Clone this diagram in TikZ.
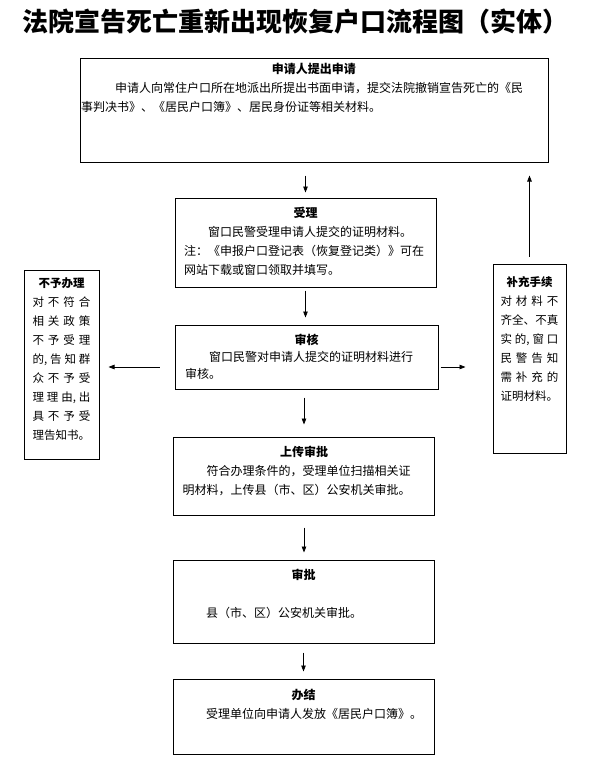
\documentclass[tikz,border=0pt]{standalone}
\usepackage{fontspec}
\newfontfamily\cjk{Noto Sans CJK SC}
\usetikzlibrary{positioning,arrows.meta,calc}

% bold heading line centred over the text width
\newcommand\boxtitle[1]{\makebox[\linewidth]{\bfseries #1}}
% let CJK lines stretch in the narrow side boxes
\newcommand\cjkspread{\XeTeXlinebreaklocale "zh"\XeTeXlinebreakskip=0pt plus 3pt\relax}

\begin{document}
\begin{tikzpicture}[
      x=1pt, y=-1pt,
      box/.style={rectangle, draw, line width=1pt, inner sep=0pt},
      txt/.style={inner sep=0pt, align=left, font=\cjk\fontsize{12}{19}\selectfont},
      side/.style={inner sep=0pt, align=justify, text width=58pt, font=\cjk\fontsize{11.5}{19}\selectfont\cjkspread},
      line/.style={draw, line width=0.8pt, -{Triangle[length=6pt, width=4.5pt]}}
  ]
      \useasboundingbox (0,0) rectangle (589,766);

      % Title
      \node (title) [font=\cjk\bfseries\fontsize{26}{26}\selectfont] at (296,22) {法院宣告死亡重新出现恢复户口流程图（实体）};

      % Boxes
      \node (app) [box, minimum width=468pt, minimum height=104pt] at (314,110) {};
      \node (acc) [box, minimum width=261pt, minimum height=89pt] at (305.5,242.5) {};
      \node (rev) [box, minimum width=263pt, minimum height=64pt] at (306.5,357) {};
      \node (upl) [box, minimum width=261pt, minimum height=78pt] at (304,476) {};
      \node (appr) [box, minimum width=261pt, minimum height=83pt] at (303.5,601.5) {};
      \node (done) [box, minimum width=261pt, minimum height=75pt] at (303.5,716.5) {};
      \node (rej) [box, minimum width=75pt, minimum height=189pt] at (61.5,364.5) {};
      \node (sup) [box, minimum width=73pt, minimum height=189pt] at (529.5,358.5) {};

      % Texts
      \node (app-t) [txt, text width=466pt, below=6pt of app.north] {\boxtitle{申请人提出申请}\\
        \hspace*{34pt}申请人向常住户口所在地派出所提出书面申请，提交法院撤销宣告死亡的《民\\
        事判决书》、《居民户口簿》、居民身份证等相关材料。};
      \node (acc-t) [txt, text width=243pt, below=9pt of acc.north] {\boxtitle{受理}\\
        \hspace*{2em}窗口民警受理申请人提交的证明材料。\\
        注：《申报户口登记表（恢复登记类）》可在\\
        网站下载或窗口领取并填写。};
      \node (rev-t) [txt, text width=243pt, below=9pt of rev.north, font=\cjk\fontsize{12}{17}\selectfont] {\boxtitle{审核}\\
        \hspace*{2em}窗口民警对申请人提交的证明材料进行\\
        审核。};
      \node (upl-t) [txt, text width=243pt, below=9pt of upl.north] {\boxtitle{上传审批}\\
        \hspace*{2em}符合办理条件的，受理单位扫描相关证\\
        明材料，上传县（市、区）公安机关审批。};
      \node (appr-t) [txt, text width=243pt, below=9pt of appr.north] {\boxtitle{审批}\\[19pt]
        \hspace*{2em}县（市、区）公安机关审批。};
      \node (done-t) [txt, text width=243pt, below=10pt of done.north] {\boxtitle{办结}\\
        \hspace*{2em}受理单位向申请人发放《居民户口簿》。};
      \node (rej-t) [side, below=8pt of rej.north] {\boxtitle{不予办理}\linebreak
        对不符合\linebreak 相关政策\linebreak 不予受理\linebreak 的,告知群\linebreak
        众不予受\linebreak 理理由,出\linebreak 具不予受\linebreak 理告知书。};
      \node (sup-t) [side, below=13pt of sup.north] {\boxtitle{补充手续}\linebreak
        对材料不\linebreak 齐全、不真\linebreak 实的,窗口\linebreak 民警告知\linebreak
        需补充的\linebreak 证明材料。};

      % Connections
      \coordinate (side) at (0,367);
      \path [line, shorten <=13pt, shorten >=5pt] (app.south -| acc.north) -- (acc.north);
      \path [line, shorten <=3pt, shorten >=7pt] (acc.south) -- (acc.south |- rev.north);
      \path [line, shorten <=8pt, shorten >=12pt] (upl.north |- rev.south) -- (upl.north);
      \path [line, shorten <=12pt, shorten >=7pt] (upl.south) -- (upl.south |- appr.north);
      \path [line, shorten <=9pt, shorten >=7pt] (appr.south) -- (appr.south |- done.north);
      \path [line, shorten <=15pt, shorten >=9pt] (rev.west |- side) -- (rej.east |- side);
      \path [line, shorten <=2pt, shorten >=27pt] (rev.east |- side) -- (sup.west |- side);
      \path [line, shorten <=7pt, shorten >=13pt] (sup.north) -- (sup.north |- app.south);
  \end{tikzpicture}
\end{document}
